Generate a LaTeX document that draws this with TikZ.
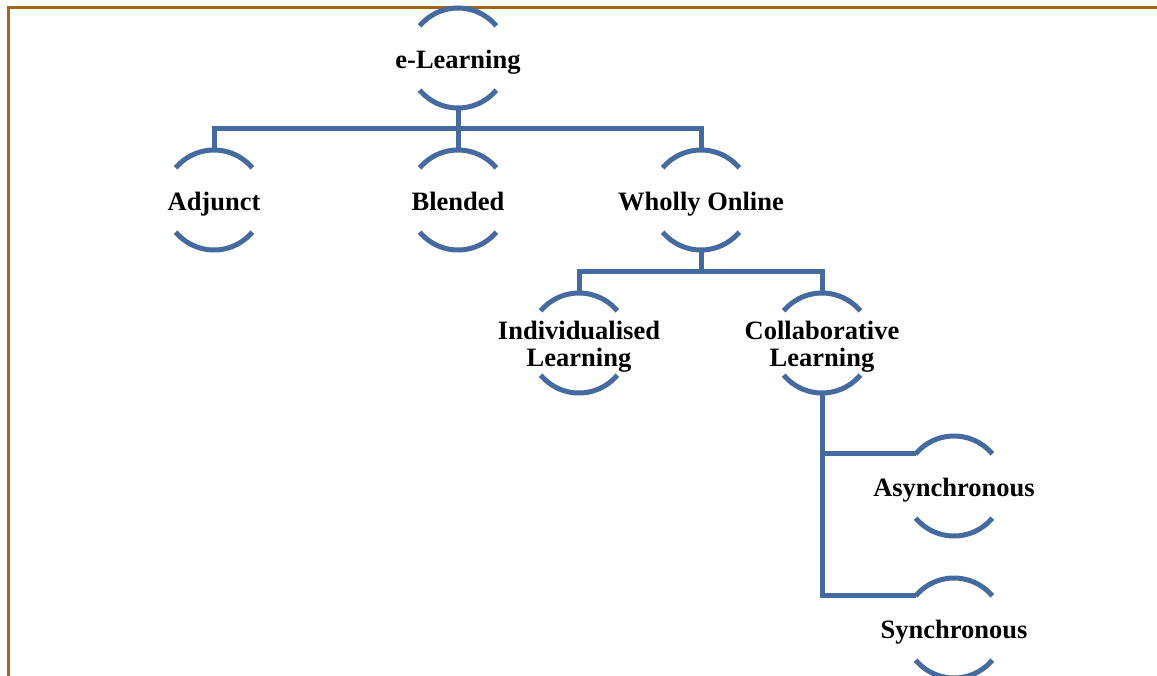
\documentclass[tikz,border=0pt]{standalone}
\usepackage{fontspec}
\setmainfont{Liberation Serif}
\usetikzlibrary{calc}
\definecolor{linkblue}{RGB}{68,106,160}
\definecolor{framebrown}{RGB}{163,100,28}
\tikzset{
  term/.style={rectangle, inner sep=0pt, minimum height=100pt, align=center,
    font=\bfseries\fontsize{26.5}{27}\selectfont},
  oneline/.style={term, text height=24pt, text depth=4pt},
  link/.style={draw=linkblue, line width=5pt},
  pics/ringarcs/.style={code={
    \draw[link] (140:50pt) arc[start angle=140, end angle=40, radius=50pt];
    \draw[link] (220:50pt) arc[start angle=220, end angle=320, radius=50pt];
  }}
}
\begin{document}
\begin{tikzpicture}[x=1pt, y=-1pt]
  \useasboundingbox (0,0) rectangle (1157,675);
  \clip (0,0) rectangle (1157,675);
  % page frame
  \draw[framebrown, line width=3pt] (8,7) rectangle (1190,700);

  % terms
  \node[oneline] (el) at (458,58)  {e-Learning};
  \node[oneline] (ad) at (214,200) {Adjunct};
  \node[oneline] (bl) at (458,200) {Blended};
  \node[oneline] (wo) at (701,200) {Wholly Online};
  \node[term] (il) at (579,347) {Individualised\\Learning};
  \node[term] (cl) at (822,347) {Collaborative\\Learning};
  \node[oneline] (as) at (954,486) {Asynchronous};
  \node[oneline] (sy) at (954,628) {Synchronous};

  \foreach \n/\dy in {el/0,ad/0,bl/0,wo/0,il/-4,cl/-4,as/0,sy/0} {
    \pic at ($(\n.center)+(0,\dy)$) {ringarcs};
  }

  % tree connectors
  \draw[link] (el.south) -- ++(0,20) -| (ad.north);
  \draw[link] (el.south) -- ++(0,20) -| (wo.north);
  \draw[link] (el.south) -- (bl.north);
  \coordinate (wofork) at ($(wo.south)+(0,21)$);
  \coordinate (iltop) at ($(il.north)+(0,-4)$);
  \coordinate (cltop) at ($(cl.north)+(0,-4)$);
  \coordinate (clbot) at ($(cl.south)+(0,-4)$);
  \draw[link] (wo.south) -- (wofork) -| (iltop);
  \draw[link] (wofork) -| (cltop);
  \coordinate (asin) at ($(as.center)+(140:50pt)$);
  \coordinate (syin) at ($(sy.center)+(140:50pt)$);
  \draw[link] (clbot) |- (asin);
  \draw[link] (clbot) |- (syin);
\end{tikzpicture}
\end{document}
